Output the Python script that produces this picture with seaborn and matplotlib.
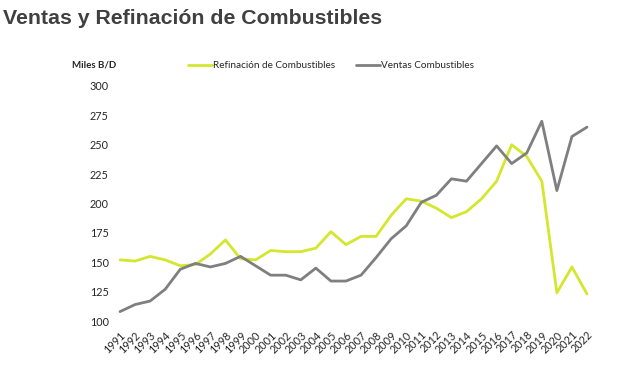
import matplotlib
matplotlib.use("Agg")
import matplotlib.pyplot as plt
import seaborn as sns
import pandas as pd
from matplotlib.lines import Line2D

years = list(range(1991, 2023))
refinacion = [152, 151, 155, 152, 147, 148, 157, 169, 153, 152, 160, 159, 159, 162, 176, 165,
              172, 172, 190, 204, 202, 196, 188, 193, 204, 219, 250, 240, 219, 124, 146, 123]
ventas = [108, 114, 117, 127, 144, 149, 146, 149, 155, 147, 139, 139, 135, 145, 134, 134,
          139, 154, 170, 181, 201, 207, 221, 219, 234, 249, 234, 243, 270, 211, 257, 265]
series_names = ["Refinación de Combustibles", "Ventas Combustibles"]
yticks = [100, 125, 150, 175, 200, 225, 250, 275, 300]

df = pd.DataFrame({
    "Año": years * 2,
    "Valor": refinacion + ventas,
    "Serie": [series_names[0]] * len(years) + [series_names[1]] * len(years),
})

YELLOW = "#D4E62E"
GREY = "#7F7F7F"

sns.set_theme(style="white")
plt.rcParams["font.family"] = ["Lato", "DejaVu Sans"]

fig = plt.figure(figsize=(6.2, 3.71), dpi=100)
ax = fig.add_axes([120 / 620, 1 - 321 / 371, (587 - 120) / 620, (321 - 86) / 371])

sns.lineplot(data=df, x="Año", y="Valor", hue="Serie",
             palette={series_names[0]: YELLOW, series_names[1]: GREY},
             linewidth=2.0, ax=ax, legend=False)
for ln in ax.lines:
    ln.set_clip_on(False)

ax.set_xlim(1991, 2022)
ax.set_ylim(100, 300)
ax.set_yticks(yticks)
ax.set_yticklabels([str(v) for v in yticks], fontsize=7.8, color="#262626")
ax.set_xticks(years)
ax.set_xticklabels([str(y) for y in years], rotation=45, ha="right",
                   rotation_mode="anchor", fontsize=7.8, color="#262626")
ax.tick_params(axis="y", length=0, pad=8)
ax.tick_params(axis="x", length=0, pad=6)
ax.set_xlabel("")
ax.set_ylabel("")
for s in ax.spines.values():
    s.set_visible(False)
ax.grid(False)

handles = [Line2D([0], [0], color=YELLOW, lw=2.0),
           Line2D([0], [0], color=GREY, lw=2.0)]
fig.legend(handles, series_names, loc="center", bbox_to_anchor=(331 / 620, 1 - 66 / 371),
           ncol=2, frameon=False, fontsize=7.2, handlelength=2.4, handletextpad=0.1,
           columnspacing=2.0)

fig.text(94 / 620, 1 - 65 / 371, "Miles B/D", ha="center", va="center",
         fontsize=7, fontweight="bold", color="#262626")
fig.text(3 / 620, 1 - 18 / 371, "Ventas y Refinación de Combustibles", ha="left", va="center",
         fontsize=15.3, fontweight="bold", color="#404040",
         family=["Liberation Sans", "DejaVu Sans"])

fig.savefig("out.png", dpi=100, facecolor="white")
